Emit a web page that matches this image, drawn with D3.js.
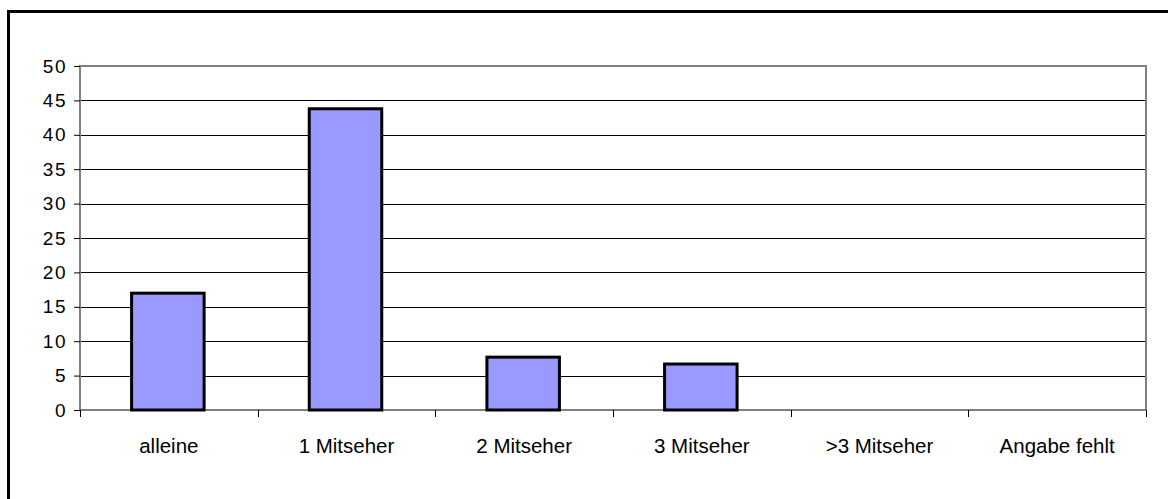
<!DOCTYPE html>
<html>
<head>
<meta charset="utf-8">
<script src="https://cdn.jsdelivr.net/npm/d3@7"></script>
<style>
  html, body { margin: 0; padding: 0; background: #fff; }
  svg { display: block; }
  text { font-family: Arial, "Liberation Sans", sans-serif; fill: #000; }
</style>
</head>
<body>
<svg id="chart" width="1168" height="499"></svg>
<script>
// Viewers per household
const categories = ["alleine", "1 Mitseher", "2 Mitseher", "3 Mitseher", ">3 Mitseher", "Angabe fehlt"];
const values = [17.2, 44.0, 7.9, 6.9, 0, 0];
const yTicks = [0, 5, 10, 15, 20, 25, 30, 35, 40, 45, 50];

const W = 1168, H = 499;
const plot = { left: 80, top: 66, right: 1146, bottom: 410 };

const svg = d3.select("#chart");

// Outer chart frame (runs off the right and bottom edges)
svg.append("rect")
  .attr("x", 8.5).attr("y", 11.5)
  .attr("width", W + 10).attr("height", H + 10)
  .attr("fill", "none").attr("stroke", "#000").attr("stroke-width", 3);

const x = d3.scaleBand()
  .domain(categories)
  .range([plot.left, plot.right])
  .paddingInner(0.575)
  .paddingOuter(0.2875);

const xOuter = d3.scaleBand().domain(categories).range([plot.left, plot.right]);

const y = d3.scaleLinear().domain([0, 50]).range([plot.bottom, plot.top]);

// Horizontal gridlines
svg.append("g")
  .selectAll("line")
  .data(yTicks.filter(t => t > 0 && t < 50))
  .join("line")
  .attr("x1", plot.left).attr("x2", plot.right)
  .attr("y1", d => Math.round(y(d)) + 0.5).attr("y2", d => Math.round(y(d)) + 0.5)
  .attr("stroke", "#000").attr("stroke-width", 1);

// Plot area border
svg.append("rect")
  .attr("x", plot.left).attr("y", plot.top)
  .attr("width", plot.right - plot.left).attr("height", plot.bottom - plot.top)
  .attr("fill", "none").attr("stroke", "#808080").attr("stroke-width", 2);

// Y axis
const yAxis = d3.axisLeft(y).tickValues(yTicks).tickSize(6).tickPadding(7);
const gy = svg.append("g").attr("transform", `translate(${plot.left},0)`).call(yAxis);
gy.select(".domain").remove();
gy.selectAll(".tick line").attr("stroke", "#000");
gy.selectAll(".tick text")
  .attr("font-size", 19).attr("letter-spacing", 1.5)
  .style("font-family", "Arial, 'Liberation Sans', sans-serif");

// X axis: ticks at category boundaries
const boundaries = categories.map(c => xOuter(c)).concat([plot.right]);
svg.append("g")
  .selectAll("line")
  .data(boundaries)
  .join("line")
  .attr("x1", d => Math.round(d) + 0.5).attr("x2", d => Math.round(d) + 0.5)
  .attr("y1", plot.bottom).attr("y2", plot.bottom + 7)
  .attr("stroke", "#000").attr("stroke-width", 1);

svg.append("g")
  .selectAll("text")
  .data(categories)
  .join("text")
  .attr("x", d => xOuter(d) + xOuter.bandwidth() / 2)
  .attr("y", 453)
  .attr("text-anchor", "middle")
  .attr("font-size", 20.5)
  .text(d => d);

// Bars
svg.append("g")
  .selectAll("rect")
  .data(values.map((v, i) => ({ c: categories[i], v })).filter(d => d.v > 0))
  .join("rect")
  .attr("x", d => x(d.c) + 0.5)
  .attr("y", d => y(d.v) + 1.5)
  .attr("width", x.bandwidth() - 3)
  .attr("height", d => y(0) - y(d.v) - 1.5)
  .attr("fill", "#9999FF")
  .attr("stroke", "#000")
  .attr("stroke-width", 3);
</script>
</body>
</html>
